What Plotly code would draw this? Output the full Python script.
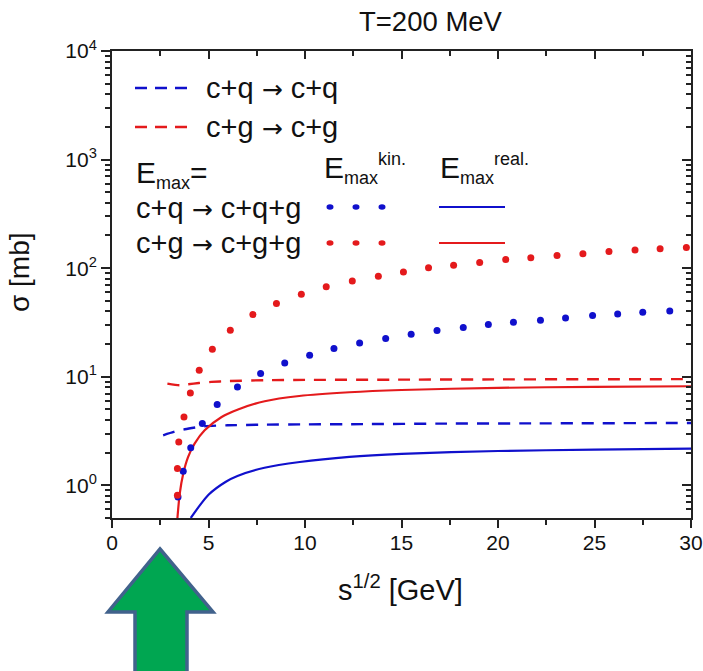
import numpy as np
import plotly.graph_objects as go

# ---------------- data ----------------
# elastic c+q -> c+q (blue dashed)
s_cq_el = [2.65, 3.2, 3.77, 4.8, 6.0, 7.9, 10, 13, 17, 22, 30]
sig_cq_el = [2.89, 3.1, 3.28, 3.5, 3.57, 3.62, 3.64, 3.66, 3.7, 3.72, 3.75]
# elastic c+g -> c+g (red dashed)
s_cg_el = [2.87, 3.5, 3.95, 4.5, 5.15, 6.0, 7.9, 10, 15, 20, 25, 30]
sig_cg_el = [8.65, 8.35, 8.53, 8.75, 8.96, 9.12, 9.29, 9.35, 9.4, 9.45, 9.48, 9.5]
# radiative c+q -> c+q+g, E_max kin. (blue dots)
s_cq_kin = [3.42, 3.69, 4.08, 4.68, 5.45, 6.5, 7.7, 8.95, 10.24, 11.5, 12.83, 14.18,
            15.5, 16.84, 18.2, 19.5, 20.8, 22.2, 23.5, 24.9, 26.2, 27.5, 28.9]
sig_cq_kin = [0.78, 1.35, 2.22, 3.7, 5.55, 8.05, 10.7, 13.4, 15.8, 18.2, 20.5, 22.5,
              24.6, 26.7, 28.4, 30.3, 31.8, 33.2, 34.8, 36.6, 37.9, 39.3, 40.4]
# radiative c+g -> c+g+g, E_max kin. (red dots)
s_cg_kin = [3.39, 3.39, 3.46, 3.73, 4.06, 4.52, 5.2, 6.13, 7.3, 8.52, 9.81, 11.1, 12.45,
            13.8, 15.1, 16.4, 17.7, 19.05, 20.4, 21.7, 23.06, 24.4, 25.75, 27.1, 28.4, 29.76]
sig_cg_kin = [0.81, 1.43, 2.51, 4.26, 7.1, 11.5, 17.9, 26.8, 37.4, 47.3, 57.6, 67.3, 76,
              84.4, 92.4, 100.7, 106.6, 112.6, 120, 124.5, 131, 135.5, 142.5, 146.6, 150.7, 155]
# radiative c+q -> c+q+g, E_max real. (blue solid)
s_cq_real = [4.08, 4.54, 5.0, 5.9, 6.5, 7.9, 9.73, 12.3, 15, 20, 25, 30]
sig_cq_real = [0.5, 0.65, 0.82, 1.08, 1.22, 1.45, 1.64, 1.83, 1.95, 2.07, 2.13, 2.18]
# radiative c+g -> c+g+g, E_max real. (red solid)
s_cg_real = [3.39, 3.51, 3.69, 3.94, 4.28, 4.8, 5.68, 6.53, 7.91, 9.7, 12.3, 15, 20, 25, 30]
sig_cg_real = [0.5, 0.84, 1.28, 1.82, 2.42, 3.21, 4.26, 5.0, 5.95, 6.65, 7.2, 7.55, 7.9, 8.08, 8.17]

x_ticks = [0, 5, 10, 15, 20, 25, 30]
y_tick_exp = [0, 1, 2, 3, 4]

BLUE = "#1010CC"
RED = "#E41A1C"
AXC = "#222222"
FONT = "Arial, Liberation Sans, sans-serif"
ARROW = '<span style="font-family:DejaVu Sans;font-size:25px">→</span>'

# ---------------- geometry helpers (pixels -> paper) ----------------
W, H = 703, 671
L, R, T, B = 112, 691, 51, 518


def X(px):
    return (px - L) / (R - L)


def Y(py):
    return (B - py) / (B - T)


fig = go.Figure()

fig.add_trace(go.Scatter(x=s_cq_el, y=sig_cq_el, mode="lines",
                         line=dict(color=BLUE, width=2.4, dash="12px,9px", shape="spline", smoothing=0.6)))
fig.add_trace(go.Scatter(x=s_cg_el, y=sig_cg_el, mode="lines",
                         line=dict(color=RED, width=2.4, dash="12px,9px", shape="spline", smoothing=0.6)))
fig.add_trace(go.Scatter(x=s_cq_real, y=sig_cq_real, mode="lines",
                         line=dict(color=BLUE, width=2.2, shape="spline", smoothing=0.7)))
fig.add_trace(go.Scatter(x=s_cg_real, y=sig_cg_real, mode="lines",
                         line=dict(color=RED, width=2.2, shape="spline", smoothing=0.7)))
fig.add_trace(go.Scatter(x=s_cq_kin, y=sig_cq_kin, mode="markers",
                         marker=dict(color=BLUE, size=7, line=dict(width=0))))
fig.add_trace(go.Scatter(x=s_cg_kin, y=sig_cg_kin, mode="markers",
                         marker=dict(color=RED, size=7, line=dict(width=0))))
# anchor trace for the mirrored (top/right) axes
fig.add_trace(go.Scatter(x=[], y=[], xaxis="x2", yaxis="y2", showlegend=False))

ymin, ymax = np.log10(0.5), 4
y_major = [10.0 ** e for e in y_tick_exp]
y_minor = [m * 10.0 ** e for e in range(-1, 4) for m in range(2, 10) if 0.5 <= m * 10.0 ** e < 1e4]
x_minor = [v + 2.5 for v in x_ticks[:-1]]

common_x = dict(range=[0, 30], showline=True, linecolor=AXC, linewidth=2, showgrid=False,
                zeroline=False, tickvals=x_ticks, tickcolor=AXC, tickwidth=2, ticklen=8,
                automargin=False)
common_y = dict(type="log", range=[ymin, ymax], showline=True, linecolor=AXC, linewidth=2,
                showgrid=False, zeroline=False, tickvals=y_major, tickcolor=AXC, tickwidth=2, ticklen=9,
                automargin=False)

fig.update_layout(
    width=W, height=H,
    margin=dict(l=L, r=W - R, t=T, b=H - B, autoexpand=False),
    paper_bgcolor="white", plot_bgcolor="white",
    showlegend=False,
    font=dict(family=FONT, color="#111111"),
    xaxis=dict(**common_x, ticks="outside", tickfont=dict(size=21, family=FONT, color="#111"),
               ticklabelstandoff=-3,
               minor=dict(tickvals=x_minor, ticks="outside", ticklen=5, tickwidth=2, tickcolor=AXC)),
    xaxis2=dict(**common_x, overlaying="x", side="top", anchor="y", ticks="inside",
                showticklabels=False,
                minor=dict(tickvals=x_minor, ticks="inside", ticklen=5, tickwidth=2, tickcolor=AXC)),
    yaxis=dict(**common_y, ticks="outside",
               ticktext=["10<sup>%d</sup>" % e for e in y_tick_exp],
               tickfont=dict(size=21, family=FONT, color="#111"),
               minor=dict(tickvals=y_minor, ticks="outside", ticklen=5, tickwidth=2, tickcolor=AXC)),
    yaxis2=dict(**common_y, overlaying="y", side="right", anchor="x", ticks="inside",
                showticklabels=False,
                minor=dict(tickvals=y_minor, ticks="inside", ticklen=5, tickwidth=2, tickcolor=AXC)),
)

ann = []
# title and axis titles
ann.append(dict(text="T=200 MeV", x=X(431), y=Y(22), xref="paper", yref="paper",
                xanchor="center", yanchor="middle", showarrow=False, font=dict(size=27.5)))
ann.append(dict(text="s<sup>1/2</sup> [GeV]", x=X(400), y=Y(588), xref="paper", yref="paper",
                xanchor="center", yanchor="middle", showarrow=False, font=dict(size=29)))
ann.append(dict(text="σ [mb]", x=X(19), y=Y(272), xref="paper", yref="paper", textangle=-90,
                xanchor="center", yanchor="middle", showarrow=False, font=dict(size=28)))


# legend texts
def legtext(txt, px, py, size=29):
    ann.append(dict(text=txt, x=X(px), y=Y(py), xref="paper", yref="paper", xanchor="left",
                    yanchor="middle", showarrow=False, font=dict(size=size)))


EMAX = 'E<sub><span style="font-size:18px">max</span></sub>'
legtext("c+q " + ARROW + " c+q", 204, 88)
legtext("c+g " + ARROW + " c+g", 204, 127)
legtext(EMAX + "=", 134, 174, 30)
legtext(EMAX + '<sup><span style="font-size:18px">kin.</span></sup>', 322, 168, 30)
legtext(EMAX + '<sup><span style="font-size:18px">real.</span></sup>', 438, 168, 30)
legtext("c+q " + ARROW + " c+q+g", 134, 208)
legtext("c+g " + ARROW + " c+g+g", 134, 243)

shapes = []
for col, py in [(BLUE, 88), (RED, 127)]:
    shapes.append(dict(type="line", xref="paper", yref="paper", x0=X(135), x1=X(193), y0=Y(py), y1=Y(py),
                       line=dict(color=col, width=2.4, dash="12px,8px")))
for col, py in [(BLUE, 207), (RED, 243)]:
    shapes.append(dict(type="line", xref="paper", yref="paper", x0=X(439), x1=X(505), y0=Y(py), y1=Y(py),
                       line=dict(color=col, width=2.2)))
    for cx in (330, 356, 382):
        shapes.append(dict(type="circle", xref="paper", yref="paper", x0=X(cx - 3.5), x1=X(cx + 3.5),
                           y0=Y(py + 2.8), y1=Y(py - 2.8), fillcolor=col, line=dict(width=0)))

# green arrow under the axis
pts = [(160, 549), (213, 612), (187, 612), (187, 690), (135, 690), (135, 612), (108, 612)]
path = "M " + " L ".join("%.5f,%.5f" % (X(a), Y(b)) for a, b in pts) + " Z"
shapes.append(dict(type="path", xref="paper", yref="paper", path=path, fillcolor="#00A651",
                   line=dict(color="#41628C", width=3.5), layer="above"))

fig.update_layout(annotations=ann, shapes=shapes)
fig.write_html("out.html")
